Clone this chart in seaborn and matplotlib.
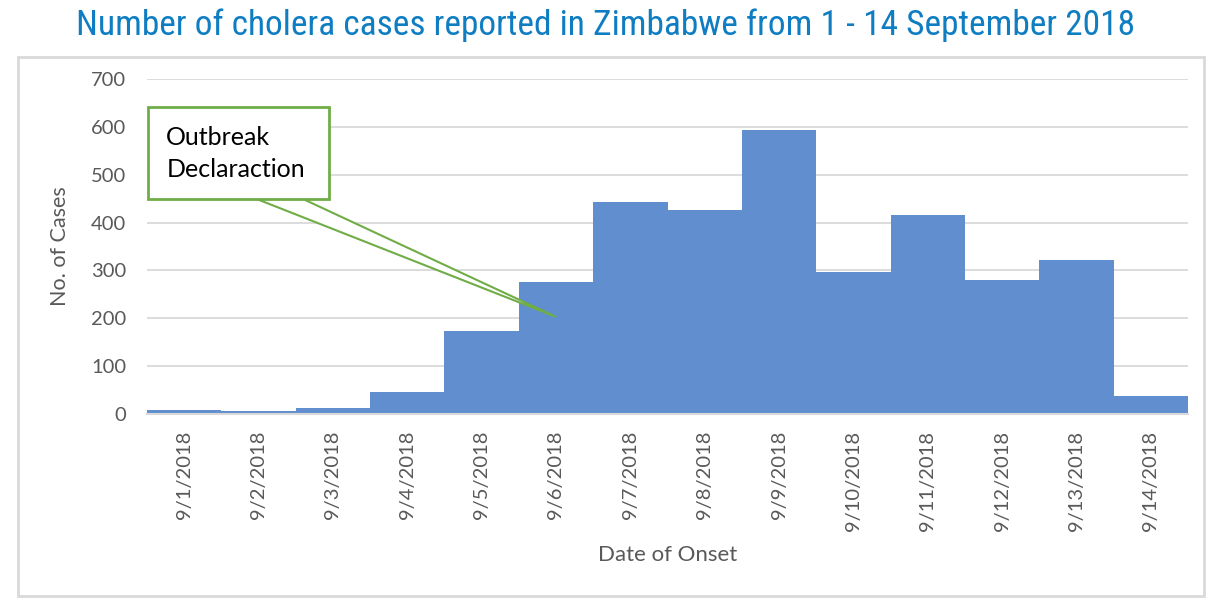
import matplotlib
matplotlib.use("Agg")
import matplotlib.pyplot as plt
import matplotlib.patches as mpatches
from matplotlib import font_manager
import seaborn as sns
import pandas as pd

dates = ["9/1/2018", "9/2/2018", "9/3/2018", "9/4/2018", "9/5/2018", "9/6/2018",
         "9/7/2018", "9/8/2018", "9/9/2018", "9/10/2018", "9/11/2018", "9/12/2018",
         "9/13/2018", "9/14/2018"]
cases = [8, 6, 13, 47, 173, 276, 444, 427, 594, 296, 415, 280, 321, 37]
y_ticks = [0, 100, 200, 300, 400, 500, 600, 700]

title = "Number of cholera cases reported in Zimbabwe from 1 - 14 September 2018"
annot_text = "Outbreak\nDeclaraction"

df = pd.DataFrame({"date": dates, "cases": cases})

sns.set_theme(style="whitegrid")
names = {f.name for f in font_manager.fontManager.ttflist}
body = "Lato" if "Lato" in names else "DejaVu Sans"
plt.rcParams["font.family"] = [body, "DejaVu Sans"]
narrow = [n for n in ["Liberation Sans Narrow", "Roboto Condensed", "Open Sans Condensed"] if n in names]
title_font = narrow[0] if narrow else "Liberation Sans"

W, H = 1226, 616
fig = plt.figure(figsize=(W / 100, H / 100), dpi=100)
fig.patch.set_facecolor("white")

# outer border
fig.patches.append(mpatches.Rectangle((18 / W, 1 - 596 / H), (1204 - 18) / W, (596 - 57) / H,
                                      transform=fig.transFigure, fill=False,
                                      edgecolor="#d9d9d9", linewidth=2, zorder=0))

ax = fig.add_axes([147 / W, 1 - 414 / H, (1188 - 147) / W, (414 - 79) / H])
sns.barplot(data=df, x="date", y="cases", color="#608ecf", saturation=1, width=1.0,
            linewidth=0, ax=ax, zorder=2)
ax.set_xlim(-0.5, len(dates) - 0.5)
ax.set_ylim(0, 700)
ax.set_yticks(y_ticks)
ax.set_facecolor("white")
ax.grid(axis="y", color="#d9d9d9", linewidth=1.3)
ax.grid(axis="x", visible=False)
ax.set_axisbelow(True)
for s in ["top", "right", "left"]:
    ax.spines[s].set_visible(False)
ax.spines["bottom"].set_color("#d9d9d9")
ax.spines["bottom"].set_linewidth(1.5)
ax.tick_params(axis="both", length=0, colors="#595959", labelsize=14.5)
ax.tick_params(axis="y", pad=15)
ax.tick_params(axis="x", pad=12)
plt.setp(ax.get_xticklabels(), rotation=90)
ax.set_xlabel("Date of Onset", fontsize=16, color="#595959", labelpad=10)
ax.set_ylabel("No. of Cases", fontsize=15.5, color="#595959", labelpad=15)

# callout
wedge = mpatches.Polygon([(0.93, 452), (5.0, 203), (1.56, 452)], closed=True,
                         facecolor="white", edgecolor="#70ad47", linewidth=1.5, zorder=5)
ax.add_patch(wedge)
box = mpatches.Rectangle((-0.49, 450), 1.95 + 0.49, 642 - 450, facecolor="white",
                         edgecolor="#70ad47", linewidth=2, zorder=6, clip_on=False)
ax.add_patch(box)
ax.text(-0.24, 544, annot_text, fontsize=18, color="black", va="center", ha="left",
        linespacing=1.45, zorder=7)

fig.text(606 / W, 1 - 25 / H, title, fontsize=25.5, color="#0f7dc2", ha="center", va="center",
         family=[title_font, "DejaVu Sans"])

fig.savefig("out.png", dpi=100)
